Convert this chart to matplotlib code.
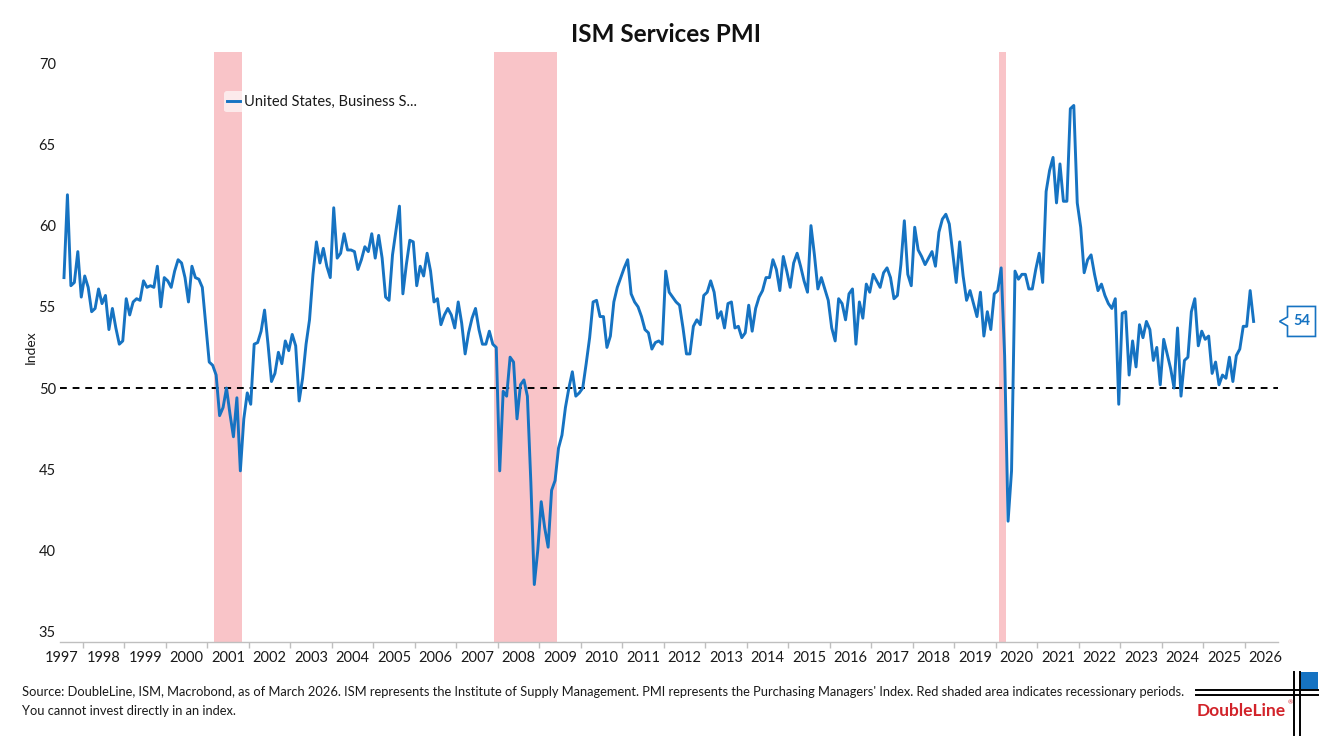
import matplotlib
matplotlib.use("Agg")
import matplotlib.pyplot as plt
import numpy as np
from matplotlib.patches import Polygon, Rectangle
from matplotlib.lines import Line2D
from matplotlib.transforms import IdentityTransform

# ---------------- data ----------------
start_year, start_month = 1997, 7
pmi_1997 = [56.8, 61.9, 56.3, 56.5, 58.4, 55.6]
pmi_1998 = [56.9, 56.2, 54.7, 54.9, 56.1, 55.2, 55.7, 53.6, 54.9, 53.7, 52.7, 52.9]
pmi_1999 = [55.5, 54.5, 55.3, 55.5, 55.4, 56.6, 56.2, 56.3, 56.2, 57.5, 55.0, 56.8]
pmi_2000 = [56.6, 56.2, 57.2, 57.9, 57.7, 56.8, 55.3, 57.5, 56.8, 56.7, 56.2, 53.9]
pmi_2001 = [51.6, 51.4, 50.8, 48.3, 48.8, 50.0, 48.4, 47.0, 49.4, 44.9, 48.1, 49.7]
pmi_2002 = [49.0, 52.7, 52.8, 53.5, 54.8, 52.7, 50.4, 50.9, 52.2, 51.5, 52.9, 52.3]
pmi_2003 = [53.3, 52.6, 49.2, 50.6, 52.7, 54.2, 57.0, 59.0, 57.7, 58.6, 57.5, 56.8]
pmi_2004 = [61.1, 58.0, 58.3, 59.5, 58.5, 58.5, 58.4, 57.3, 57.9, 58.7, 58.4, 59.5]
pmi_2005 = [58.0, 59.4, 58.0, 55.6, 55.4, 58.2, 59.7, 61.2, 55.8, 57.6, 59.1, 59.0]
pmi_2006 = [56.3, 57.5, 56.9, 58.3, 57.2, 55.3, 55.5, 53.9, 54.5, 54.9, 54.5, 53.7]
pmi_2007 = [55.3, 54.0, 52.1, 53.4, 54.3, 54.9, 53.6, 52.7, 52.7, 53.5, 52.7, 52.5]
pmi_2008 = [44.9, 49.8, 49.5, 51.9, 51.6, 48.1, 50.2, 50.5, 49.5, 44.2, 37.9, 40.0]
pmi_2009 = [43.0, 41.4, 40.2, 43.7, 44.3, 46.3, 47.1, 48.8, 50.0, 51.0, 49.5, 49.7]
pmi_2010 = [50.0, 51.5, 53.1, 55.3, 55.4, 54.4, 54.4, 52.5, 53.2, 55.3, 56.2, 56.8]
pmi_2011 = [57.4, 57.9, 55.8, 55.3, 55.0, 54.4, 53.6, 53.4, 52.4, 52.8, 52.9, 52.7]
pmi_2012 = [57.2, 55.9, 55.6, 55.3, 55.1, 53.7, 52.1, 52.1, 53.8, 54.2, 53.9, 55.7]
pmi_2013 = [55.9, 56.6, 55.9, 54.3, 54.7, 53.7, 55.2, 55.3, 53.7, 53.8, 53.1, 53.4]
pmi_2014 = [55.1, 53.5, 54.9, 55.6, 56.0, 56.8, 56.8, 57.9, 57.3, 56.0, 58.1, 57.2]
pmi_2015 = [56.2, 57.7, 58.3, 57.5, 56.6, 55.9, 60.0, 58.2, 56.1, 56.8, 56.1, 55.4]
pmi_2016 = [53.7, 52.9, 55.5, 55.2, 54.2, 55.8, 56.1, 52.7, 55.3, 54.3, 56.4, 55.9]
pmi_2017 = [57.0, 56.6, 56.2, 57.1, 57.4, 56.8, 55.5, 55.7, 57.6, 60.3, 57.0, 56.3]
pmi_2018 = [59.9, 58.5, 58.1, 57.6, 58.0, 58.4, 57.5, 59.6, 60.4, 60.7, 60.1, 58.3]
pmi_2019 = [56.5, 59.0, 56.9, 55.4, 56.0, 55.2, 54.4, 55.9, 53.2, 54.7, 53.6, 55.8]
pmi_2020 = [56.0, 57.4, 52.0, 41.8, 44.9, 57.2, 56.7, 57.0, 57.0, 56.1, 56.1, 57.3]
pmi_2021 = [58.3, 56.5, 62.1, 63.4, 64.2, 61.4, 63.8, 61.5, 61.5, 67.2, 67.4, 61.4]
pmi_2022 = [59.9, 57.1, 57.9, 58.2, 57.0, 56.0, 56.4, 55.7, 55.2, 54.9, 55.5, 49.0]
pmi_2023 = [54.6, 54.7, 50.8, 52.9, 51.3, 53.9, 53.1, 54.1, 53.6, 51.7, 52.5, 50.2]
pmi_2024 = [53.0, 52.1, 51.2, 50.0, 53.7, 49.5, 51.7, 51.9, 54.7, 55.5, 52.6, 53.5]
pmi_2025 = [53.0, 53.2, 50.9, 51.6, 50.2, 50.8, 50.6, 51.9, 50.4, 52.0, 52.4, 53.8]
pmi_2026 = [53.8, 56.0, 54.1]

recessions = [("2001-03", "2001-11"), ("2007-12", "2009-06"), ("2020-02", "2020-04")]
year_labels = list(range(1997, 2027))
y_ticks = [35, 40, 45, 50, 55, 60, 65, 70]
threshold = 50
series_label = "United States, Business S..."
title = "ISM Services PMI"
source_1 = ("Source: DoubleLine, ISM, Macrobond, as of March 2026. ISM represents the Institute of Supply "
            "Management. PMI represents the Purchasing Managers' Index. Red shaded area indicates recessionary periods.")
source_2 = "You cannot invest directly in an index."

values = np.array(pmi_1997 + pmi_1998 + pmi_1999 + pmi_2000 + pmi_2001 + pmi_2002 + pmi_2003 +
                  pmi_2004 + pmi_2005 + pmi_2006 + pmi_2007 + pmi_2008 + pmi_2009 + pmi_2010 +
                  pmi_2011 + pmi_2012 + pmi_2013 + pmi_2014 + pmi_2015 + pmi_2016 + pmi_2017 +
                  pmi_2018 + pmi_2019 + pmi_2020 + pmi_2021 + pmi_2022 + pmi_2023 + pmi_2024 +
                  pmi_2025 + pmi_2026)
months_idx = np.arange(len(values)) + (start_month - 1)
t = start_year + (months_idx + 0.55) / 12.0


def ym_to_float(s):
    y, m = s.split("-")
    return int(y) + (int(m) - 1) / 12.0

# ---------------- figure ----------------
W, H = 1333, 750
plt.rcParams['font.family'] = ['Lato', 'DejaVu Sans']
fig = plt.figure(figsize=(W / 100, H / 100), dpi=100)
fig.patch.set_facecolor('white')

ax_left, ax_right, ax_top, ax_bottom = 60, 1278, 51.7, 641.7
ax = fig.add_axes([ax_left / W, (H - ax_bottom) / H, (ax_right - ax_left) / W, (ax_bottom - ax_top) / H])

blue = '#1673C2'
pink = '#F9C4C8'

for s, e in recessions:
    ax.axvspan(ym_to_float(s), ym_to_float(e), color=pink, lw=0, zorder=1)

ax.axhline(threshold, color='black', lw=1.4, dashes=(3.5, 3.0), zorder=2)
ax.plot(t, values, color=blue, lw=2.1, zorder=3, label=series_label, solid_joinstyle='round')

ax.set_xlim(1997.45, 2026.80)
ax.set_ylim(34.38, 70.71)

for sp in ['top', 'right', 'left']:
    ax.spines[sp].set_visible(False)
ax.spines['bottom'].set_color('#BFBFBF')
ax.spines['bottom'].set_linewidth(1.0)

ax.set_xticks([y for y in year_labels if y > 1997])
ax.set_xticklabels([])
ax.tick_params(axis='x', which='major', length=4, color='#BFBFBF', width=1)
ax.set_xticks([y + 0.5 for y in year_labels], minor=True)
ax.set_xticklabels([str(y) for y in year_labels], minor=True)
ax.tick_params(axis='x', which='minor', length=0, pad=7, labelsize=10.5, labelcolor='#1a1a1a')

ax.set_yticks(y_ticks)
ax.set_yticklabels([str(v) for v in y_ticks])
ax.tick_params(axis='y', length=0, pad=3, labelsize=10.5, labelcolor='#1a1a1a')
ax.set_ylabel("Index", fontsize=10, color='#1a1a1a', labelpad=1.5)

leg = ax.legend(loc='center left', bbox_to_anchor=(0.1345, 0.915), handlelength=0.85,
                handletextpad=0.25, borderpad=0.25, borderaxespad=0, frameon=True,
                facecolor='white', edgecolor='none', framealpha=0.65, fontsize=10.5)
for txt in leg.get_texts():
    txt.set_color('#1a1a1a')

# title
fig.text(0.4996, (H - 35) / H, title, ha='center', va='center', fontsize=17.5, fontweight='bold',
         color='#111111')

# last value callout
last_disp = ax.transData.transform((t[-1], values[-1]))
yd = last_disp[1]
tip_x, box_l, box_r, half_h, notch = 1279.5, 1287.5, 1315.5, 15, 4.5
poly = Polygon([(tip_x, yd), (box_l, yd + notch), (box_l, yd + half_h), (box_r, yd + half_h),
                (box_r, yd - half_h), (box_l, yd - half_h), (box_l, yd - notch)], closed=True,
               facecolor='white', edgecolor=blue, lw=1.2, transform=IdentityTransform())
fig.add_artist(poly)
fig.text((box_l + box_r) / 2 / W, yd / H, f"{values[-1]:.0f}", ha='center', va='center',
         fontsize=10.5, fontweight='bold', color=blue)

# footer
fig.text(22 / W, (H - 692) / H, source_1, ha='left', va='center', fontsize=9.25, color='#1a1a1a')
fig.text(22 / W, (H - 711) / H, source_2, ha='left', va='center', fontsize=9.25, color='#1a1a1a')

# DoubleLine logo
def fx(x):
    return x / W

def fy(y):
    return (H - y) / H

for yy in (690, 695):
    fig.add_artist(Line2D([fx(1196), fx(1318)], [fy(yy), fy(yy)], color='black', lw=1.4,
                          transform=fig.transFigure))
for xx in (1294, 1300):
    fig.add_artist(Line2D([fx(xx), fx(xx)], [fy(672), fy(735)], color='black', lw=1.4,
                          transform=fig.transFigure))
fig.add_artist(Rectangle((fx(1301), fy(689)), fx(1318) - fx(1301), fy(672) - fy(689),
                         facecolor=blue, edgecolor='none', transform=fig.transFigure))
fig.text(fx(1197), fy(711), "DoubleLine", ha='left', va='center', fontsize=12.5,
         fontweight='bold', color='#D2232A')
fig.text(fx(1288), fy(703), "®", ha='left', va='center', fontsize=4.5, color='#D2232A')

fig.savefig("out.png", dpi=100, facecolor='white')
